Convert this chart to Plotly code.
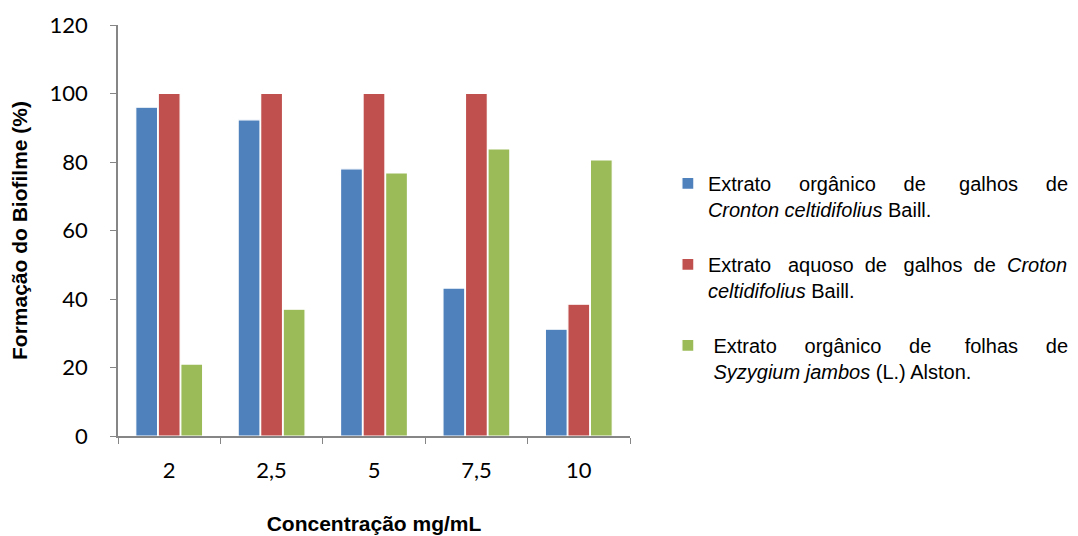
import plotly.graph_objects as go

categories = ["2", "2,5", "5", "7,5", "10"]
organico_galhos = [96, 92.3, 78, 43.2, 31.2]
aquoso_galhos = [100, 100, 100, 100, 38.5]
organico_folhas = [21, 37, 76.8, 83.8, 80.6]

NB = "\u00a0"
names = [
    "Extrato" + NB * 5 + "orgânico" + NB * 5 + "de" + NB * 6 + "galhos" + NB * 5
    + "de<br><i>Cronton celtidifolius</i> Baill.",
    "Extrato" + NB * 3 + "aquoso" + NB * 2 + "de" + NB * 3 + "galhos" + NB * 2 + "de" + NB * 2
    + "<i>Croton</i><br><i>celtidifolius</i> Baill.",
    NB + "Extrato" + NB * 5 + "orgânico" + NB * 5 + "de" + NB * 6 + "folhas" + NB * 5
    + "de<br>" + NB + "<i>Syzygium jambos</i> (L.) Alston.",
]
colors = ["#4f81bd", "#c0504d", "#9bbb59"]
series = [organico_galhos, aquoso_galhos, organico_folhas]

fig = go.Figure()
for i, (vals, nm, c) in enumerate(zip(series, names, colors)):
    fig.add_trace(go.Bar(
        x=categories, y=vals, name=nm, legendgroup=f"g{i}",
        marker=dict(color=c, line=dict(color="white", width=1.2)),
    ))

fig.update_layout(
    width=1078, height=536,
    margin=dict(l=110, r=454, t=17, b=108),
    paper_bgcolor="white", plot_bgcolor="white",
    barmode="group", bargap=0.34, bargroupgap=0.03,
    font=dict(family="Liberation Sans, Arial", color="#000000"),
    legend=dict(
        x=1.074, xanchor="left", y=0.662, yanchor="top",
        valign="top", tracegroupgap=26,
        font=dict(size=20, family="Liberation Sans, Arial", color="#000"),
        bgcolor="rgba(0,0,0,0)",
    ),
)
fig.update_yaxes(
    range=[0, 120], dtick=20, showgrid=False, zeroline=False, automargin=False,
    showline=True, linecolor="#868686", linewidth=1.5,
    ticks="outside", ticklen=6, tickcolor="#868686", tickwidth=1.3,
    ticklabelstandoff=18,
    tickfont=dict(size=22, family="Lato, Open Sans"),
    title=dict(text="<b>Formação do Biofilme (%)</b>", font=dict(size=21), standoff=18),
)
fig.update_xaxes(
    showgrid=False, showline=True, linecolor="#868686", linewidth=1.5, automargin=False,
    ticks="outside", ticklen=6, tickcolor="#868686", tickwidth=1.3, tickson="boundaries",
    ticklabelstandoff=14,
    tickfont=dict(size=22, family="Lato, Open Sans"),
    title=dict(text="<b>Concentração mg/mL</b>", font=dict(size=21), standoff=34),
)

fig.write_html("out.html")
